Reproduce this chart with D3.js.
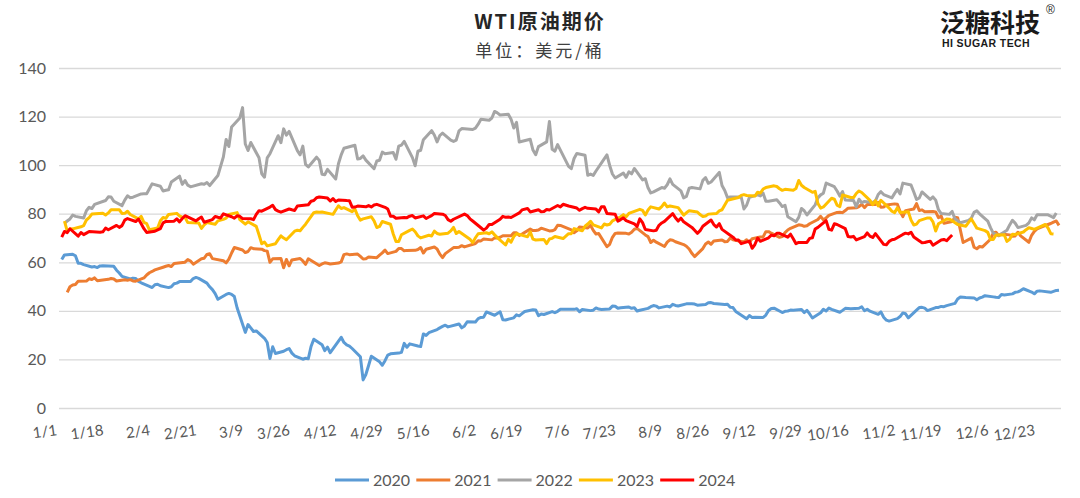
<!DOCTYPE html>
<html><head><meta charset="utf-8">
<script src="https://cdn.jsdelivr.net/npm/d3@7"></script>
<style>body{margin:0;background:#fff;} svg{display:block;font-family:Lato,"Noto Sans",sans-serif;}</style>
</head><body><svg id="c" width="1080" height="498"></svg>
<script>
const years = ["2020","2021","2022","2023","2024"];
const colors = ["#5B9BD5","#ED7D31","#A5A5A5","#FFC000","#FF0000"];
const yTicks = [0,20,40,60,80,100,120,140];
const xTickLabels = ["1/1","1/18","2/4","2/21","3/9","3/26","4/12","4/29","5/16","6/2","6/19","7/6","7/23","8/9","8/26","9/12","9/29","10/16","11/2","11/19","12/6","12/23"];

const wti2020 = [["1/2",61.18],["1/3",63.05],["1/6",63.27],["1/7",62.70],["1/8",59.61],["1/9",59.56],["1/10",59.04],["1/13",58.08],["1/14",58.23],["1/15",57.81],["1/16",58.52],["1/17",58.54],["1/21",58.34],["1/22",56.74],["1/23",55.59],["1/24",54.19],["1/27",53.14],["1/28",53.48],["1/29",53.33],["1/30",52.14],["1/31",51.56],["2/3",50.11],["2/4",49.61],["2/5",50.75],["2/6",50.95],["2/7",50.32],["2/10",49.57],["2/11",49.94],["2/12",51.17],["2/13",51.42],["2/14",52.05],["2/18",52.05],["2/19",53.29],["2/20",53.78],["2/21",53.38],["2/24",51.43],["2/25",49.90],["2/26",48.73],["2/27",47.09],["2/28",44.76],["3/2",46.75],["3/3",47.18],["3/4",46.78],["3/5",45.90],["3/6",41.28],["3/9",31.13],["3/10",34.36],["3/11",32.98],["3/12",31.50],["3/13",31.73],["3/16",28.70],["3/17",26.95],["3/18",20.37],["3/19",25.22],["3/20",22.43],["3/23",23.36],["3/24",24.01],["3/25",24.49],["3/26",22.60],["3/27",21.51],["3/30",20.09],["3/31",20.48],["4/1",20.31],["4/2",25.32],["4/3",28.34],["4/6",26.08],["4/7",23.63],["4/8",25.09],["4/9",22.76],["4/13",29.1],["4/14",27.0],["4/15",26.0],["4/16",25.5],["4/17",24.5],["4/20",21.1],["4/21",11.57],["4/22",13.8],["4/23",17.5],["4/24",21.3],["4/27",19.0],["4/28",17.6],["4/29",19.5],["4/30",21.8],["5/1",22.3],["5/4",22.6],["5/5",22.9],["5/6",26.6],["5/7",25.0],["5/8",26.4],["5/11",25.5],["5/12",25.3],["5/13",30.5],["5/14",29.9],["5/15",31.0],["5/18",32.3],["5/19",33.0],["5/20",33.6],["5/21",34.1],["5/22",33.4],["5/26",34.6],["5/27",33.0],["5/28",33.8],["5/29",35.5],["6/1",35.44],["6/2",36.81],["6/3",37.29],["6/4",37.41],["6/5",39.55],["6/8",38.19],["6/9",38.94],["6/10",39.60],["6/11",36.34],["6/12",36.26],["6/15",37.12],["6/16",38.38],["6/17",37.96],["6/18",38.84],["6/19",39.75],["6/22",40.46],["6/23",40.37],["6/24",38.01],["6/25",38.72],["6/26",38.49],["6/29",39.70],["6/30",39.27],["7/1",39.82],["7/2",40.65],["7/6",40.63],["7/7",40.62],["7/8",40.90],["7/9",39.62],["7/10",40.55],["7/13",40.10],["7/14",40.29],["7/15",41.20],["7/16",40.75],["7/17",40.59],["7/20",40.81],["7/21",41.96],["7/22",41.90],["7/23",41.07],["7/24",41.29],["7/27",41.60],["7/28",41.04],["7/29",41.27],["7/30",39.92],["7/31",40.27],["8/3",41.01],["8/4",41.70],["8/5",42.19],["8/6",41.95],["8/7",41.22],["8/10",41.94],["8/11",41.61],["8/12",42.67],["8/13",42.24],["8/14",42.01],["8/17",42.89],["8/18",42.89],["8/19",42.93],["8/20",42.82],["8/21",42.34],["8/24",42.62],["8/25",43.35],["8/26",43.39],["8/27",43.04],["8/28",42.97],["8/31",42.61],["9/1",42.76],["9/2",41.51],["9/3",41.37],["9/4",39.77],["9/8",36.76],["9/9",38.05],["9/10",37.30],["9/11",37.33],["9/14",37.26],["9/15",38.28],["9/16",40.16],["9/17",40.97],["9/18",41.11],["9/21",39.31],["9/22",39.80],["9/23",39.93],["9/24",40.31],["9/25",40.25],["9/28",40.60],["9/29",39.29],["9/30",40.22],["10/1",38.72],["10/2",37.05],["10/5",39.22],["10/6",40.67],["10/7",39.95],["10/8",41.19],["10/9",40.60],["10/12",39.43],["10/13",40.20],["10/14",41.04],["10/15",40.96],["10/16",40.88],["10/19",41.06],["10/20",41.70],["10/21",40.03],["10/22",40.64],["10/23",39.85],["10/26",38.56],["10/27",39.57],["10/28",37.39],["10/29",36.17],["10/30",35.79],["11/2",36.81],["11/3",37.66],["11/4",39.15],["11/5",38.79],["11/6",37.14],["11/9",40.29],["11/10",41.36],["11/11",41.45],["11/12",41.12],["11/13",40.13],["11/16",41.34],["11/17",41.43],["11/18",41.82],["11/19",41.74],["11/20",42.15],["11/23",43.06],["11/24",44.91],["11/25",45.71],["11/27",45.53],["11/30",45.34],["12/1",44.55],["12/2",45.28],["12/3",45.64],["12/4",46.26],["12/7",45.76],["12/8",45.60],["12/9",45.52],["12/10",46.78],["12/11",46.57],["12/14",46.99],["12/15",47.62],["12/16",47.82],["12/17",48.36],["12/18",49.10],["12/21",47.74],["12/22",47.02],["12/23",48.12],["12/24",48.23],["12/28",47.62],["12/29",48.00],["12/30",48.40],["12/31",48.52]];

const wti2021 = [["1/4",47.62],["1/5",49.93],["1/6",50.63],["1/7",50.83],["1/8",52.24],["1/11",52.25],["1/12",53.21],["1/13",52.91],["1/14",53.57],["1/15",52.36],["1/19",52.98],["1/20",53.31],["1/21",53.13],["1/22",52.27],["1/25",52.77],["1/26",52.61],["1/27",52.85],["1/28",52.34],["1/29",52.20],["2/1",53.55],["2/2",54.76],["2/3",55.69],["2/4",56.23],["2/5",56.85],["2/8",57.97],["2/9",58.36],["2/10",58.68],["2/11",58.24],["2/12",59.47],["2/16",60.05],["2/17",61.14],["2/18",60.52],["2/19",59.24],["2/22",61.49],["2/23",61.67],["2/24",63.22],["2/25",63.53],["2/26",61.50],["3/1",60.64],["3/2",59.75],["3/3",61.28],["3/4",63.83],["3/5",66.09],["3/8",65.05],["3/9",64.01],["3/10",64.44],["3/11",66.02],["3/12",65.61],["3/15",65.39],["3/16",64.80],["3/17",64.60],["3/18",60.00],["3/19",61.42],["3/22",61.55],["3/23",57.76],["3/24",61.18],["3/25",58.56],["3/26",60.97],["3/29",61.56],["3/30",60.55],["3/31",59.16],["4/1",61.45],["4/5",58.65],["4/6",59.33],["4/7",59.77],["4/8",59.60],["4/9",59.32],["4/12",59.70],["4/13",60.18],["4/14",63.15],["4/15",63.46],["4/16",63.13],["4/19",63.38],["4/20",62.44],["4/21",61.35],["4/22",61.43],["4/23",62.14],["4/26",61.91],["4/27",62.94],["4/28",63.86],["4/29",65.01],["4/30",63.58],["5/3",64.49],["5/4",65.69],["5/5",65.63],["5/6",64.71],["5/7",64.90],["5/10",64.92],["5/11",65.28],["5/12",66.08],["5/13",63.82],["5/14",65.37],["5/17",66.27],["5/18",65.49],["5/19",63.36],["5/20",61.94],["5/21",63.58],["5/24",66.05],["5/25",66.07],["5/26",66.21],["5/27",66.85],["5/28",66.32],["6/1",67.72],["6/2",68.83],["6/3",68.81],["6/4",69.62],["6/7",69.23],["6/8",70.05],["6/9",69.96],["6/10",70.29],["6/11",70.91],["6/14",70.88],["6/15",72.12],["6/16",72.15],["6/17",71.04],["6/18",71.64],["6/21",73.66],["6/22",73.06],["6/23",73.08],["6/24",73.30],["6/25",74.05],["6/28",72.91],["6/29",72.98],["6/30",73.47],["7/1",75.23],["7/2",75.16],["7/6",73.37],["7/7",72.20],["7/8",72.94],["7/9",74.56],["7/12",74.10],["7/13",75.25],["7/14",73.13],["7/15",71.65],["7/16",71.81],["7/19",66.42],["7/20",67.42],["7/21",70.30],["7/22",71.91],["7/23",72.07],["7/26",71.91],["7/27",71.65],["7/28",72.39],["7/29",73.62],["7/30",73.95],["8/2",71.26],["8/3",70.56],["8/4",68.15],["8/5",69.09],["8/6",68.28],["8/9",66.48],["8/10",68.29],["8/11",69.25],["8/12",69.09],["8/13",68.44],["8/16",67.29],["8/17",66.59],["8/18",65.46],["8/19",63.69],["8/20",62.32],["8/23",65.64],["8/24",67.54],["8/25",68.36],["8/26",67.42],["8/27",68.74],["8/30",69.21],["8/31",68.50],["9/1",68.59],["9/2",69.99],["9/3",69.29],["9/7",68.35],["9/8",69.30],["9/9",68.14],["9/10",69.72],["9/13",70.45],["9/14",70.46],["9/15",72.61],["9/16",72.61],["9/17",71.97],["9/20",70.29],["9/21",70.56],["9/22",72.23],["9/23",73.30],["9/24",73.98],["9/27",75.45],["9/28",75.29],["9/29",74.83],["9/30",75.03],["10/1",75.88],["10/4",77.62],["10/5",78.93],["10/6",77.43],["10/7",78.30],["10/8",79.35],["10/11",80.52],["10/12",80.64],["10/13",80.44],["10/14",81.31],["10/15",82.28],["10/18",82.44],["10/19",82.96],["10/20",83.87],["10/21",82.50],["10/22",83.76],["10/25",83.76],["10/26",84.65],["10/27",82.66],["10/28",82.81],["10/29",83.57],["11/1",84.05],["11/2",83.91],["11/3",80.86],["11/4",78.81],["11/5",81.27],["11/8",81.93],["11/9",84.15],["11/10",81.34],["11/11",81.59],["11/12",80.79],["11/15",80.88],["11/16",80.76],["11/17",78.36],["11/18",79.01],["11/19",76.10],["11/22",76.75],["11/23",78.50],["11/24",78.39],["11/26",68.15],["11/29",69.95],["11/30",66.18],["12/1",65.57],["12/2",66.50],["12/3",66.26],["12/6",69.49],["12/7",72.05],["12/8",72.36],["12/9",70.94],["12/10",71.67],["12/13",71.29],["12/14",70.73],["12/15",70.87],["12/16",72.38],["12/17",70.86],["12/20",68.23],["12/21",71.12],["12/22",72.76],["12/23",73.79],["12/27",75.57],["12/28",75.98],["12/29",76.56],["12/30",76.99],["12/31",75.21]];

const wti2022 = [["1/3",76.08],["1/4",76.99],["1/5",77.85],["1/6",79.46],["1/7",78.90],["1/10",78.23],["1/11",81.22],["1/12",82.64],["1/13",82.12],["1/14",83.82],["1/18",85.43],["1/19",86.96],["1/20",86.90],["1/21",85.14],["1/24",83.31],["1/25",85.60],["1/26",87.35],["1/27",86.61],["1/28",86.82],["1/31",88.15],["2/1",88.20],["2/2",88.26],["2/3",90.27],["2/4",92.31],["2/7",91.32],["2/8",89.36],["2/9",89.66],["2/10",89.88],["2/11",93.10],["2/14",95.46],["2/15",92.07],["2/16",93.66],["2/17",91.76],["2/18",91.07],["2/22",92.35],["2/23",92.10],["2/24",92.81],["2/25",91.59],["2/28",95.72],["3/1",103.41],["3/2",110.60],["3/3",107.67],["3/4",115.68],["3/7",119.40],["3/8",123.70],["3/9",108.70],["3/10",106.02],["3/11",109.33],["3/14",103.01],["3/15",96.44],["3/16",95.04],["3/17",102.98],["3/18",104.70],["3/21",112.12],["3/22",109.27],["3/23",114.93],["3/24",112.34],["3/25",113.90],["3/28",105.96],["3/29",104.24],["3/30",107.82],["3/31",100.28],["4/1",99.27],["4/4",103.28],["4/5",101.96],["4/6",96.23],["4/7",96.03],["4/8",98.26],["4/11",94.29],["4/12",100.60],["4/13",104.25],["4/14",106.95],["4/18",108.21],["4/19",102.56],["4/20",102.75],["4/21",103.79],["4/22",102.07],["4/25",98.54],["4/26",101.70],["4/27",102.02],["4/28",105.36],["4/29",104.69],["5/2",105.17],["5/3",102.41],["5/4",107.81],["5/5",108.26],["5/6",109.77],["5/9",103.09],["5/10",99.76],["5/11",105.71],["5/12",106.13],["5/13",110.49],["5/16",114.20],["5/17",112.40],["5/18",109.59],["5/19",112.21],["5/20",113.23],["5/23",110.29],["5/24",109.77],["5/25",110.33],["5/26",114.09],["5/27",115.07],["5/31",114.67],["6/1",115.26],["6/2",116.87],["6/3",118.87],["6/6",118.50],["6/7",119.41],["6/8",122.11],["6/9",121.51],["6/10",120.67],["6/13",120.93],["6/14",118.93],["6/15",115.31],["6/16",117.59],["6/17",109.56],["6/21",110.65],["6/22",106.19],["6/23",104.27],["6/24",107.62],["6/27",109.57],["6/28",118.0],["6/29",106.5],["6/30",105.76],["7/1",108.43],["7/5",99.50],["7/6",98.53],["7/7",102.73],["7/8",104.79],["7/11",104.09],["7/12",95.84],["7/13",96.30],["7/14",95.78],["7/15",97.59],["7/18",102.60],["7/19",104.22],["7/20",99.88],["7/21",96.35],["7/22",94.70],["7/25",96.70],["7/26",94.98],["7/27",97.26],["7/28",96.42],["7/29",98.62],["8/1",93.89],["8/2",94.42],["8/3",90.66],["8/4",88.54],["8/5",89.01],["8/8",90.76],["8/9",90.50],["8/10",91.93],["8/11",94.34],["8/12",92.09],["8/15",89.41],["8/16",86.53],["8/17",87.11],["8/18",90.50],["8/19",90.77],["8/22",90.23],["8/23",93.74],["8/24",94.89],["8/25",92.52],["8/26",93.06],["8/29",97.01],["8/30",91.64],["8/31",89.55],["9/1",86.61],["9/2",86.87],["9/6",86.88],["9/7",81.94],["9/8",83.54],["9/9",86.79],["9/12",87.78],["9/13",87.31],["9/14",88.48],["9/15",85.10],["9/16",85.11],["9/19",85.73],["9/20",84.45],["9/21",82.94],["9/22",83.49],["9/23",78.74],["9/26",76.71],["9/27",78.50],["9/28",82.15],["9/29",81.23],["9/30",79.49],["10/3",83.63],["10/4",86.52],["10/5",87.76],["10/6",88.45],["10/7",92.64],["10/10",91.13],["10/11",89.35],["10/12",87.27],["10/13",89.11],["10/14",85.61],["10/17",85.46],["10/18",82.82],["10/19",85.98],["10/20",84.51],["10/21",85.05],["10/24",84.58],["10/25",85.32],["10/26",87.91],["10/27",89.08],["10/28",87.90],["10/31",86.53],["11/1",88.37],["11/2",90.00],["11/3",88.17],["11/4",92.61],["11/7",91.79],["11/8",88.91],["11/9",85.83],["11/10",86.47],["11/11",88.96],["11/14",85.87],["11/15",86.92],["11/16",85.59],["11/17",81.64],["11/18",80.08],["11/21",79.73],["11/22",80.95],["11/23",77.94],["11/25",76.28],["11/28",77.24],["11/29",78.20],["11/30",80.55],["12/1",81.22],["12/2",79.98],["12/5",76.93],["12/6",74.25],["12/7",72.01],["12/8",71.46],["12/9",71.02],["12/12",73.17],["12/13",75.39],["12/14",77.28],["12/15",76.11],["12/16",74.29],["12/19",75.19],["12/20",76.23],["12/21",78.29],["12/22",77.49],["12/23",79.56],["12/27",79.53],["12/28",78.96],["12/29",78.40],["12/30",80.26]];

const wti2023 = [["1/3",76.93],["1/4",72.84],["1/5",73.67],["1/6",73.77],["1/9",74.63],["1/10",75.12],["1/11",77.41],["1/12",78.39],["1/13",79.86],["1/17",80.18],["1/18",79.48],["1/19",80.33],["1/20",81.64],["1/23",81.62],["1/24",80.13],["1/25",80.15],["1/26",81.01],["1/27",79.68],["1/30",77.90],["1/31",78.87],["2/1",76.41],["2/2",75.88],["2/3",73.39],["2/6",74.11],["2/7",77.14],["2/8",78.47],["2/9",78.06],["2/10",79.72],["2/13",80.14],["2/14",79.06],["2/15",78.59],["2/16",78.49],["2/17",76.34],["2/21",76.16],["2/22",73.95],["2/23",75.39],["2/24",76.32],["2/27",75.68],["2/28",77.05],["3/1",77.69],["3/2",78.16],["3/3",79.68],["3/6",80.46],["3/7",77.58],["3/8",76.66],["3/9",75.72],["3/10",76.68],["3/13",74.80],["3/14",71.33],["3/15",67.61],["3/16",68.35],["3/17",66.74],["3/20",67.64],["3/21",69.33],["3/22",70.90],["3/23",69.96],["3/24",69.26],["3/27",72.81],["3/28",73.20],["3/29",72.97],["3/30",74.37],["3/31",75.67],["4/3",80.42],["4/4",80.71],["4/5",80.61],["4/6",80.70],["4/10",79.74],["4/11",81.53],["4/12",83.26],["4/13",82.16],["4/14",82.52],["4/17",80.83],["4/18",81.86],["4/19",79.16],["4/20",77.37],["4/21",77.87],["4/24",78.76],["4/25",77.07],["4/26",74.30],["4/27",74.76],["4/28",76.78],["5/1",75.66],["5/2",71.66],["5/3",68.60],["5/4",68.56],["5/5",71.34],["5/8",73.16],["5/9",73.71],["5/10",72.56],["5/11",70.87],["5/12",70.04],["5/15",71.11],["5/16",70.86],["5/17",72.83],["5/18",71.86],["5/19",71.55],["5/22",71.99],["5/23",72.91],["5/24",74.34],["5/25",71.83],["5/26",72.67],["5/30",69.46],["5/31",68.09],["6/1",70.10],["6/2",71.74],["6/5",72.15],["6/6",71.74],["6/7",72.53],["6/8",71.29],["6/9",70.17],["6/12",67.12],["6/13",69.42],["6/14",68.27],["6/15",70.62],["6/16",71.78],["6/20",70.50],["6/21",72.53],["6/22",69.51],["6/23",69.16],["6/26",69.37],["6/27",67.70],["6/28",69.56],["6/29",69.86],["6/30",70.64],["7/3",69.79],["7/5",71.79],["7/6",71.80],["7/7",73.86],["7/10",72.99],["7/11",74.83],["7/12",75.75],["7/13",76.89],["7/14",75.42],["7/17",74.15],["7/18",75.75],["7/19",75.35],["7/20",75.63],["7/21",77.07],["7/24",78.74],["7/25",79.63],["7/26",78.78],["7/27",80.09],["7/28",80.58],["7/31",81.80],["8/1",81.37],["8/2",79.49],["8/3",81.55],["8/4",82.82],["8/7",81.94],["8/8",82.92],["8/9",84.40],["8/10",82.82],["8/11",83.19],["8/14",82.51],["8/15",80.99],["8/16",79.38],["8/17",80.39],["8/18",81.25],["8/21",80.72],["8/22",79.64],["8/23",78.89],["8/24",79.05],["8/25",79.83],["8/28",80.10],["8/29",81.16],["8/30",81.63],["8/31",83.63],["9/1",85.55],["9/5",86.69],["9/6",87.54],["9/7",87.87],["9/8",87.51],["9/11",87.29],["9/12",88.84],["9/13",88.52],["9/14",90.16],["9/15",90.77],["9/18",91.48],["9/19",91.20],["9/20",90.28],["9/21",89.63],["9/22",90.03],["9/25",89.68],["9/26",90.39],["9/27",93.68],["9/28",91.71],["9/29",90.79],["10/2",88.82],["10/3",89.23],["10/4",84.22],["10/5",82.31],["10/6",82.79],["10/9",86.38],["10/10",85.97],["10/11",83.49],["10/12",82.91],["10/13",87.69],["10/16",86.66],["10/17",86.66],["10/18",88.32],["10/19",89.37],["10/20",88.75],["10/23",85.49],["10/24",83.74],["10/25",85.39],["10/26",83.21],["10/27",85.54],["10/30",82.31],["10/31",81.02],["11/1",80.44],["11/2",82.46],["11/3",80.51],["11/6",80.82],["11/7",77.37],["11/8",75.33],["11/9",75.74],["11/10",77.17],["11/13",78.26],["11/14",78.26],["11/15",76.66],["11/16",72.90],["11/17",75.89],["11/20",77.83],["11/21",77.77],["11/22",77.10],["11/24",75.54],["11/27",74.86],["11/28",76.41],["11/29",77.86],["11/30",75.96],["12/1",74.07],["12/4",73.04],["12/5",72.32],["12/6",69.38],["12/7",69.34],["12/8",71.23],["12/11",71.32],["12/12",68.61],["12/13",69.47],["12/14",71.58],["12/15",71.43],["12/18",72.47],["12/19",73.44],["12/20",74.22],["12/21",73.89],["12/22",73.56],["12/26",75.57],["12/27",74.11],["12/28",71.77],["12/29",71.65]];

const wti2024 = [["1/2",70.38],["1/3",72.70],["1/4",72.19],["1/5",73.81],["1/8",70.77],["1/9",72.24],["1/10",71.37],["1/11",72.02],["1/12",72.68],["1/16",72.40],["1/17",72.56],["1/18",74.08],["1/19",73.41],["1/22",75.19],["1/23",74.37],["1/24",75.09],["1/25",77.36],["1/26",78.01],["1/29",76.78],["1/30",77.82],["1/31",75.85],["2/1",73.82],["2/2",72.28],["2/5",72.78],["2/6",73.31],["2/7",73.86],["2/8",76.22],["2/9",76.84],["2/12",76.92],["2/13",77.87],["2/14",76.64],["2/15",78.03],["2/16",79.19],["2/20",77.04],["2/21",77.91],["2/22",78.61],["2/23",76.49],["2/26",77.58],["2/27",78.87],["2/28",78.54],["2/29",78.26],["3/1",79.97],["3/4",78.74],["3/5",78.15],["3/6",79.13],["3/7",78.93],["3/8",78.01],["3/11",77.93],["3/12",77.56],["3/13",79.72],["3/14",81.26],["3/15",81.04],["3/18",82.72],["3/19",83.47],["3/20",81.68],["3/21",81.07],["3/22",80.63],["3/25",81.95],["3/26",81.62],["3/27",81.35],["3/28",83.17],["4/1",83.71],["4/2",85.15],["4/3",85.43],["4/4",86.59],["4/5",86.91],["4/8",86.43],["4/9",85.23],["4/10",86.21],["4/11",85.02],["4/12",85.66],["4/15",85.41],["4/16",85.36],["4/17",82.69],["4/18",82.73],["4/19",83.14],["4/22",82.85],["4/23",83.36],["4/24",82.81],["4/25",83.57],["4/26",83.85],["4/29",82.63],["4/30",81.93],["5/1",79.00],["5/2",78.95],["5/3",78.11],["5/6",78.48],["5/7",78.38],["5/8",78.99],["5/9",79.26],["5/10",78.26],["5/13",79.12],["5/14",78.02],["5/15",78.63],["5/16",79.23],["5/17",80.06],["5/20",79.80],["5/21",79.26],["5/22",77.57],["5/23",76.87],["5/24",77.72],["5/28",79.83],["5/29",79.23],["5/30",77.91],["5/31",76.99],["6/3",74.22],["6/4",73.25],["6/5",74.07],["6/6",75.55],["6/7",75.53],["6/10",77.74],["6/11",78.90],["6/12",78.50],["6/13",78.62],["6/14",78.45],["6/17",80.33],["6/18",81.57],["6/20",82.17],["6/21",80.73],["6/24",81.63],["6/25",80.83],["6/26",80.90],["6/27",81.74],["6/28",81.54],["7/1",83.38],["7/2",82.81],["7/3",83.88],["7/5",83.16],["7/8",82.33],["7/9",81.41],["7/10",82.10],["7/11",82.62],["7/12",82.21],["7/15",81.91],["7/16",80.76],["7/17",82.85],["7/18",82.82],["7/19",80.13],["7/22",79.78],["7/23",76.96],["7/24",77.59],["7/25",78.28],["7/26",77.16],["7/29",75.81],["7/30",74.73],["7/31",77.91],["8/1",76.31],["8/2",73.52],["8/5",72.94],["8/6",73.20],["8/7",75.23],["8/8",76.19],["8/9",76.84],["8/12",80.06],["8/13",78.35],["8/14",76.98],["8/15",78.16],["8/16",76.65],["8/19",74.37],["8/20",73.17],["8/21",71.93],["8/22",73.01],["8/23",74.83],["8/26",77.42],["8/27",75.53],["8/28",74.52],["8/29",75.91],["8/30",73.55],["9/3",70.34],["9/4",69.20],["9/5",69.15],["9/6",67.67],["9/9",68.71],["9/10",65.75],["9/11",67.31],["9/12",69.97],["9/13",68.65],["9/16",70.09],["9/17",71.19],["9/18",70.91],["9/19",71.95],["9/20",71.92],["9/23",70.37],["9/24",71.56],["9/25",69.69],["9/26",67.67],["9/27",68.18],["9/30",68.17],["10/1",69.83],["10/2",70.10],["10/3",73.71],["10/4",74.38],["10/7",77.14],["10/8",73.57],["10/9",73.24],["10/10",75.85],["10/11",75.56],["10/14",73.83],["10/15",70.58],["10/16",70.39],["10/17",70.67],["10/18",69.22],["10/21",70.56],["10/22",72.09],["10/23",70.77],["10/24",70.19],["10/25",71.78],["10/28",67.38],["10/29",67.21],["10/30",68.61],["10/31",69.26],["11/1",69.49],["11/4",71.47],["11/5",71.99],["11/6",71.69],["11/7",72.36],["11/8",70.38],["11/11",68.04],["11/12",68.12],["11/13",68.43],["11/14",68.70],["11/15",67.02],["11/18",69.16],["11/19",69.39],["11/20",68.87],["11/21",70.10],["11/22",71.24]];

const series = [wti2020, wti2021, wti2022, wti2023, wti2024];

const svg = d3.select("#c");
const pLeft = 59, pRight = 1061, pTop = 68, pBottom = 408;
const md = s => { const p = s.split("/").map(Number); return new Date(2024, p[0]-1, p[1]); };
const x = d3.scaleTime().domain([new Date(2024,0,1), new Date(2024,11,31)]).range([pLeft, 1059]);
const y = d3.scaleLinear().domain([0,140]).range([pBottom, pTop]);
const txt = "#595959";

// Y grid + labels
svg.append("g").attr("transform", `translate(${pLeft},0)`)
  .call(d3.axisLeft(y).tickValues(yTicks).tickSize(-(pRight-pLeft)).tickFormat(d3.format("d")))
  .call(g => g.select(".domain").remove())
  .call(g => g.selectAll(".tick line").attr("stroke", "#D9D9D9").attr("stroke-width", 1.3))
  .call(g => g.selectAll(".tick text").attr("x", -13).attr("fill", txt).attr("font-size", 16).attr("font-family", "Lato"));

// X labels
svg.append("g").attr("transform", `translate(0,${pBottom})`)
  .call(d3.axisBottom(x).tickValues(xTickLabels.map(md)).tickSize(0).tickFormat((d,i) => xTickLabels[i]))
  .call(g => g.select(".domain").remove())
  .call(g => g.selectAll(".tick text")
     .attr("text-anchor","end").attr("x",0).attr("y",0).attr("dy",null)
     .attr("transform","translate(-2,27) rotate(-8)")
     .attr("fill", txt).attr("font-size", 15).attr("font-family","Lato"));

// lines
const line = d3.line().x(d => x(md(d[0]))).y(d => y(d[1]));
series.forEach((s, i) => {
  svg.append("path").datum(s).attr("d", line).attr("fill","none")
    .attr("stroke", colors[i]).attr("stroke-width", 3).attr("stroke-linejoin","round");
});

// Title
svg.append("text").attr("x", 540).attr("y", 29).attr("text-anchor","middle")
  .attr("font-family","'Noto Sans CJK SC'").attr("font-weight",700).attr("font-size",20)
  .attr("letter-spacing",2).attr("fill","#262626").text("WTI原油期价");
svg.append("text").attr("x", 540).attr("y", 57).attr("text-anchor","middle")
  .attr("font-family","'Noto Sans CJK SC'").attr("font-size",17)
  .attr("letter-spacing",3).attr("fill","#404040").text("单位：美元/桶");

// Logo
svg.append("text").attr("x", 940).attr("y", 32)
  .attr("font-family","'Noto Sans CJK SC'").attr("font-weight",700).attr("font-size",25)
  .attr("fill","#1a1a1a").text("泛糖科技");
svg.append("text").attr("x", 1046).attr("y", 14)
  .attr("font-family","'Liberation Sans'").attr("font-size",12).attr("fill","#1a1a1a").text("®");
svg.append("text").attr("x", 942).attr("y", 47)
  .attr("font-family","'Liberation Sans'").attr("font-weight",700).attr("font-size",10.5)
  .attr("letter-spacing",0.4).attr("fill","#1a1a1a").text("HI SUGAR TECH");

// Legend
const lg = svg.append("g");
years.forEach((yr, i) => {
  const x0 = 335 + i * 81.3;
  lg.append("line").attr("x1", x0).attr("x2", x0 + 34).attr("y1", 480).attr("y2", 480)
    .attr("stroke", colors[i]).attr("stroke-width", 3);
  lg.append("text").attr("x", x0 + 38).attr("y", 486).attr("font-size", 16)
    .attr("font-family","Lato").attr("fill", txt).text(yr);
});
</script>
</body></html>
